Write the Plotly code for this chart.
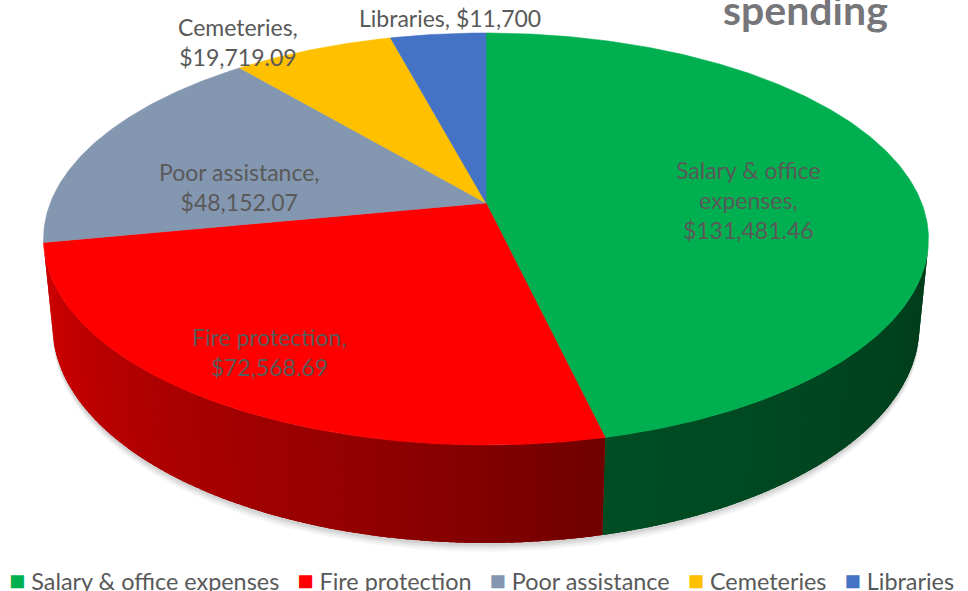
import numpy as np
import plotly.graph_objects as go

# ---------------- data ----------------
categories = ["Salary & office expenses", "Fire protection", "Poor assistance", "Cemeteries", "Libraries"]
values = [131481.46, 72568.69, 48152.07, 19719.09, 11700]
label_names = ["Salary & office<br>expenses", "Fire protection", "Poor assistance", "Cemeteries", "Libraries"]
label_breaks = ["<br>", "<br>", "<br>", "<br>", " "]
title_text = "spending"

# ---------------- style ----------------
top_colors = [(0, 176, 80), (255, 0, 0), (132, 151, 176), (255, 192, 0), (68, 114, 196)]
label_xy = [(748, 200), (269, 352), (239, 187), (238, 42), (450, 18)]
TEXT_GRAY = "#595959"
FONT = "Lato"

W, H = 968, 591
CX, CY = 486, 203
FOCAL = 2215.0
DIST = 5.084
TILT = np.radians(27.28)
THICK = 0.2267
sa, ca = np.sin(TILT), np.cos(TILT)


def proj(r, phi_deg, z):
    phi = np.radians(np.asarray(phi_deg, dtype=float))
    X = r * np.sin(phi)
    Y = r * np.cos(phi)
    v = Y * sa + z * ca
    w = DIST + Y * ca - z * sa
    return CX + FOCAL * X / w, CY - FOCAL * v / w


def rgb(c, f=1.0):
    return "rgb(%d,%d,%d)" % tuple(int(round(min(255, k * f))) for k in c)


def fmt_money(v):
    if float(v).is_integer():
        return "${:,.0f}".format(v)
    return "${:,.2f}".format(v)


total = float(sum(values))
bounds = np.concatenate([[0.0], np.cumsum(values) / total * 360.0])
phic = np.degrees(np.arccos(-1.0 / (DIST * ca)))


def shade(phi):
    return np.interp(phi, [100, 167, 195, 260], [0.34, 0.44, 0.58, 0.83])


fig = go.Figure()

# soft shadow below the pie
ring = np.linspace(0, 360, 361)
bx, by = proj(1.0, ring, -THICK)
for dx, dy, a in [(0, 9, 0.03), (0, 7, 0.04), (0, 5, 0.05), (0, 3, 0.06)]:
    fig.add_trace(go.Scatter(x=bx + dx, y=by + dy, mode="lines", fill="toself",
                             fillcolor="rgba(0,0,0,%.2f)" % a, line=dict(width=0),
                             hoverinfo="skip", showlegend=False))


def side_poly(p0, p1, k=5):
    arc = np.linspace(p0, p1, k)
    tx, ty = proj(1.0, arc, 0.0)
    lx, ly = proj(1.0, arc[::-1], -THICK)
    return np.concatenate([tx, lx]), np.concatenate([ty, ly])


# side faces (front visible part) with smooth gradient strips
for i, col in enumerate(top_colors):
    a0 = max(bounds[i], phic)
    a1 = min(bounds[i + 1], 360 - phic)
    if a1 <= a0:
        continue
    xs, ys = side_poly(a0, a1, 40)
    base = rgb(col, shade(0.5 * (a0 + a1)))
    fig.add_trace(go.Scatter(x=xs, y=ys, mode="lines", fill="toself", fillcolor=base,
                             line=dict(width=0), hoverinfo="skip", showlegend=False))
    n = int(np.ceil((a1 - a0) / 1.0))
    edges = np.linspace(a0, a1, n + 1)
    for j in range(n):
        e1 = min(edges[j + 1] + 0.6, a1)
        xs, ys = side_poly(edges[j], e1, 4)
        c = rgb(col, shade(0.5 * (edges[j] + edges[j + 1])))
        fig.add_trace(go.Scatter(x=xs, y=ys, mode="lines", fill="toself", fillcolor=c,
                                 line=dict(width=0), hoverinfo="skip", showlegend=False))

# top faces
for i, col in enumerate(top_colors):
    arc = np.linspace(bounds[i], bounds[i + 1], max(3, int((bounds[i + 1] - bounds[i]) * 2)))
    tx, ty = proj(1.0, arc, 0.0)
    ox, oy = proj(0.0, 0.0, 0.0)
    xs = np.concatenate([[ox], tx, [ox]])
    ys = np.concatenate([[oy], ty, [oy]])
    fig.add_trace(go.Scatter(x=xs, y=ys, mode="lines", fill="toself", fillcolor=rgb(col),
                             line=dict(width=0.6, color=rgb(col)), name=categories[i],
                             hoverinfo="name", showlegend=False))

annotations = []
# data labels
for i in range(len(values)):
    txt = label_names[i] + "," + label_breaks[i] + fmt_money(values[i])
    annotations.append(dict(x=label_xy[i][0], y=label_xy[i][1], xref="x", yref="y",
                            text=txt, showarrow=False, align="center",
                            font=dict(family=FONT, size=23, color=TEXT_GRAY)))

# title (partly cut at the top edge)
annotations.append(dict(x=805, y=9, xref="x", yref="y", text="<b>%s</b>" % title_text,
                        showarrow=False, font=dict(family=FONT, size=41, color="#76767A")))

# legend
parts = []
for name, col in zip(categories, top_colors):
    parts.append("<span style='color:%s;font-size:27px'>\u25A0</span>\u00a0%s" % (rgb(col), name))
legend_text = "\u00a0\u00a0\u00a0".join(parts)
annotations.append(dict(x=481, y=579, xref="x", yref="y", text=legend_text, showarrow=False,
                        font=dict(family=FONT, size=23.4, color=TEXT_GRAY)))

fig.update_layout(
    width=W, height=H,
    margin=dict(l=0, r=0, t=0, b=0),
    paper_bgcolor="white", plot_bgcolor="white",
    xaxis=dict(range=[0, W], visible=False, fixedrange=True),
    yaxis=dict(range=[H, 0], visible=False, fixedrange=True),
    annotations=annotations,
    showlegend=False,
)

fig.write_html("out.html", config={"displayModeBar": False},
               post_script="document.body.style.margin='0';")
